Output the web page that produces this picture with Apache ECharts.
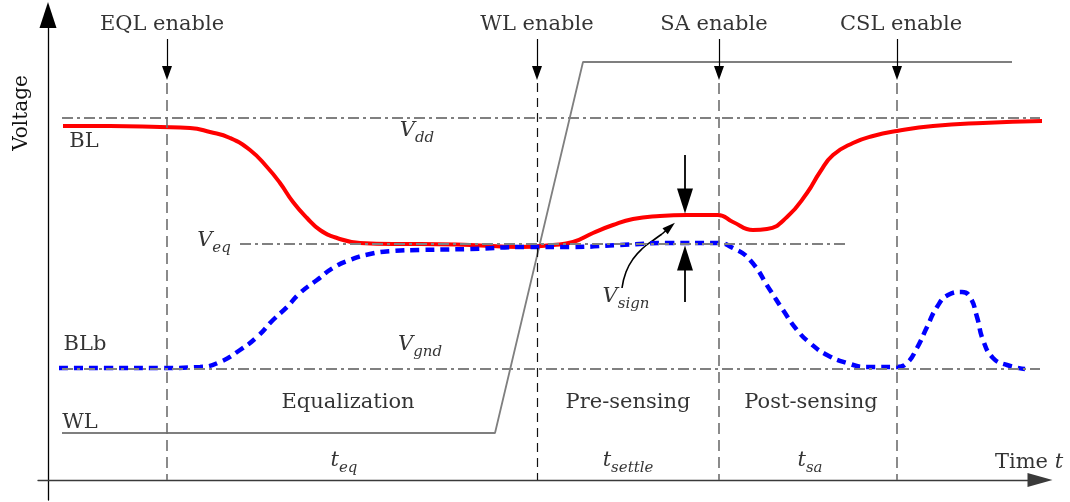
<!DOCTYPE html>
<html>
<head>
<meta charset="utf-8">
<script src="https://cdn.jsdelivr.net/npm/echarts@6/dist/echarts.min.js"></script>
<style>
  html, body { margin: 0; padding: 0; background: #fff; }
  #chart { width: 1070px; height: 502px; }
</style>
</head>
<body>
<div id="chart"></div>
<script>
// time and voltage in arbitrary units
var blTime = [1.5, 6.2, 11.2, 14.2, 16.2, 18.2, 20.2, 21.9, 23.2, 24.5, 25.9, 27.2, 28.9, 31.2, 34.5, 37.2, 42.2, 47.2, 50.5, 52.5, 54.5, 56.5, 58.5, 61.2, 63.9, 67.0, 68.5, 70.5, 71.9, 73.9, 75.9, 77.2, 78.5, 80.5, 82.5, 84.9, 88.5, 93.5, 99.9];
var blVolt = [35.4, 35.4, 35.3, 35.2, 34.8, 34.2, 33.0, 31.3, 29.7, 27.8, 26.2, 25.0, 24.2, 23.7, 23.6, 23.6, 23.5, 23.3, 23.5, 23.8, 24.7, 25.5, 26.1, 26.4, 26.5, 26.5, 25.8, 25.0, 25.1, 26.3, 28.7, 30.8, 32.5, 33.7, 34.4, 34.9, 35.4, 35.7, 35.9];

var blbTime = [1.1, 6.2, 11.2, 15.2, 17.2, 19.2, 20.9, 22.5, 23.9, 25.2, 26.9, 28.5, 30.2, 32.2, 34.5, 37.2, 42.2, 47.9, 52.2, 57.2, 62.2, 66.9, 68.5, 70.2, 72.2, 73.5, 74.9, 76.2, 77.9, 79.9, 81.9, 84.9, 85.9, 86.9, 87.9, 88.9, 90.0, 91.4, 92.2, 92.9, 93.5, 94.5, 95.9, 97.7];
var blbVolt = [11.2, 11.2, 11.2, 11.3, 11.8, 13.0, 14.3, 16.0, 17.3, 18.7, 20.0, 21.2, 22.0, 22.6, 22.9, 23.0, 23.1, 23.3, 23.3, 23.5, 23.7, 23.7, 23.2, 22.0, 19.0, 17.0, 15.0, 13.7, 12.5, 11.7, 11.3, 11.3, 11.7, 13.2, 15.3, 17.3, 18.5, 18.8, 18.3, 16.3, 14.0, 12.2, 11.5, 11.1];

var wlTime = [1.4, 44.7, 53.5, 96.4];
var wlVolt = [4.7, 4.7, 41.8, 41.8];

// reference levels Vdd, Veq, Vgnd
var levelVolt = [36.2, 23.6, 11.1];
var levelFrom = [1.4, 19.2, 1.4];
var levelTo = [99.2, 79.7, 99.2];

// enable events
var eventTime = [11.9, 48.9, 67.1, 84.9];
var eventTop = 44.1;
var eventTip = 40.0;

// sense margin arrows
var signTime = 63.7;
var signDown = [32.5, 26.7];
var signUp = [17.8, 23.4];
var signCurveTime = [57.4, 57.8, 58.5, 59.5, 60.7, 61.4];
var signCurveVolt = [19.2, 20.8, 22.1, 23.2, 24.1, 24.6];
var signHead = [62.2, 25.3];

// text annotations
var labelText = ['{r|EQL enable}', '{r|WL enable}', '{r|SA enable}', '{r|CSL enable}',
  '{r|BL}', '{r|BLb}', '{r|WL}',
  '{v|V}{s|dd}', '{v|V}{s|eq}', '{v|V}{s|gnd}', '{v|V}{s|sign}',
  '{r|Equalization}', '{r|Pre-sensing}', '{r|Post-sensing}',
  '{v|t}{s|eq}', '{v|t}{s|settle}', '{v|t}{s|sa}', '{r|Time }{i|t}'];
var labelX = [11.4, 48.9, 66.6, 85.3, 3.6, 3.7, 3.2, 36.9, 16.6, 37.2, 57.8, 30.0, 58.0, 76.3, 29.6, 58.0, 76.2, 98.1];
var labelY = [45.5, 45.5, 45.5, 45.5, 33.8, 13.5, 5.7, 34.2, 23.2, 12.8, 17.6, 7.7, 7.7, 7.7, 1.2, 1.2, 1.2, 1.7];

var FONT = '"DejaVu Serif", serif';
var INK = '#000';

function pairs(xs, ys) {
  return xs.map(function (x, i) { return [x, ys[i]]; });
}

var guides = [];
// dash-dot levels
levelVolt.forEach(function (v, i) {
  var ls = { color: '#808080', width: 1.8, type: [11, 4, 3, 4] };
  guides.push([
    { coord: [levelFrom[i], v], symbol: 'none', lineStyle: ls },
    { coord: [levelTo[i], v], symbol: 'none', lineStyle: ls }
  ]);
});
// event arrows and dashed verticals
eventTime.forEach(function (t, i) {
  var ah = { color: '#000', width: 1.2, type: 'solid' };
  guides.push([
    { coord: [t, eventTop], symbol: 'none', lineStyle: ah },
    { coord: [t, eventTip + 0.7], symbol: 'triangle', symbolSize: [10, 14], lineStyle: ah }
  ]);
  var dl = i === 1 ? { color: '#111', width: 1.2, type: [9, 6] } : { color: '#6e6e6e', width: 1.6, type: [11, 6] };
  guides.push([
    { coord: [t, eventTip - 0.3], symbol: 'none', lineStyle: dl },
    { coord: [t, 0], symbol: 'none', lineStyle: dl }
  ]);
});
// V_sign straight arrows
var sa = { color: '#000', width: 1.8, type: 'solid' };
guides.push([
  { coord: [signTime, signDown[0]], symbol: 'none', lineStyle: sa },
  { coord: [signTime, signDown[1] + 1.2], symbol: 'triangle', symbolSize: [16, 25], lineStyle: sa }
]);
guides.push([
  { coord: [signTime, signUp[0]], symbol: 'none', lineStyle: sa },
  { coord: [signTime, signUp[1] - 1.2], symbol: 'triangle', symbolSize: [16, 25], lineStyle: sa }
]);
// head of the curved V_sign pointer
var lastCurve = signCurveTime.length - 1;
var ca = { color: '#000', width: 1.6, type: 'solid' };
guides.push([
  { coord: [signCurveTime[lastCurve], signCurveVolt[lastCurve]], symbol: 'none', lineStyle: ca },
  { coord: signHead, symbol: 'triangle', symbolSize: [8, 13], lineStyle: ca }
]);

var labelData = labelX.map(function (x, i) {
  return { value: [x, labelY[i]], label: { formatter: labelText[i] } };
});

var chart = echarts.init(document.getElementById('chart'));
chart.setOption({
  animation: false,
  backgroundColor: '#fff',
  grid: { left: 38, right: 30, top: 15, bottom: 2, outerBoundsMode: 'none', containLabel: false },
  xAxis: {
    type: 'value', min: -1, max: 99.2,
    axisLine: { onZero: true, symbol: ['none', 'triangle'], symbolSize: [14, 25], lineStyle: { color: '#3a3a3a', width: 1.3 } },
    axisTick: { show: false }, axisLabel: { show: false }, splitLine: { show: false }
  },
  yAxis: {
    type: 'value', min: -2, max: 46.5,
    axisLine: { onZero: true, symbol: ['none', 'triangle'], symbolSize: [17, 26], lineStyle: { color: '#000', width: 1.3 } },
    axisTick: { show: false }, axisLabel: { show: false }, splitLine: { show: false }
  },
  graphic: [{
    type: 'text', x: 22, y: 113, rotation: Math.PI / 2,
    style: { text: 'Voltage', font: '20px ' + FONT, fill: '#111', align: 'center', verticalAlign: 'middle', textAlign: 'center', textVerticalAlign: 'middle' }
  }],
  series: [
    {
      type: 'line', name: 'guides', data: [], clip: false, z: 1,
      markLine: { silent: true, symbol: 'none', label: { show: false }, animation: false, data: guides }
    },
    {
      type: 'line', name: 'sign', data: pairs(signCurveTime, signCurveVolt), symbol: 'none', smooth: 0.5, clip: false, z: 1,
      lineStyle: { color: '#000', width: 1.6 }
    },
    {
      type: 'line', name: 'WL', data: pairs(wlTime, wlVolt), symbol: 'none', clip: false, z: 2,
      lineStyle: { color: '#7f7f7f', width: 1.8 }
    },
    {
      type: 'line', name: 'BL', data: pairs(blTime, blVolt), symbol: 'none', smooth: 0.5, clip: false, z: 3,
      lineStyle: { color: '#ff0000', width: 4 }
    },
    {
      type: 'line', name: 'BLb', data: pairs(blbTime, blbVolt), symbol: 'none', smooth: 0.5, clip: false, z: 4,
      lineStyle: { color: '#0000ff', width: 4.5, type: [9, 6] }
    },
    {
      type: 'scatter', name: 'text', data: labelData, symbolSize: 1, clip: false, z: 6,
      itemStyle: { color: 'rgba(0,0,0,0)' },
      label: {
        show: true, position: 'inside', align: 'center', verticalAlign: 'middle',
        color: INK, textBorderWidth: 0,
        rich: {
          r: { fontFamily: FONT, fontSize: 21, color: INK, textBorderWidth: 0 },
          i: { fontFamily: FONT, fontSize: 21, fontStyle: 'italic', color: INK, textBorderWidth: 0 },
          v: { fontFamily: FONT, fontSize: 21, fontStyle: 'italic', color: INK, textBorderWidth: 0, lineHeight: 22, verticalAlign: 'top' },
          s: { fontFamily: FONT, fontSize: 15, fontStyle: 'italic', color: INK, textBorderWidth: 0, lineHeight: 36 }
        }
      }
    }
  ]
});
</script>
</body>
</html>
